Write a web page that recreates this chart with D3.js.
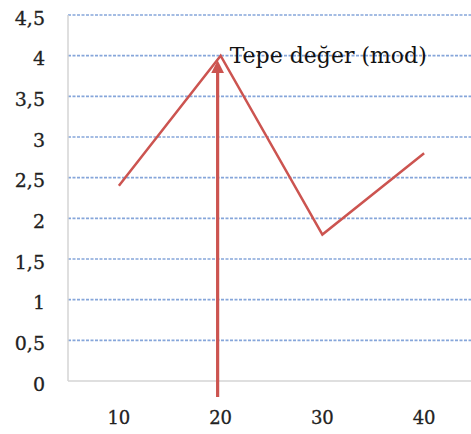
<!DOCTYPE html>
<html><head><meta charset="utf-8">
<script src="https://cdn.jsdelivr.net/npm/d3@7"></script>
<style>body{margin:0;background:#fff}svg{display:block}</style>
</head><body>
<script>
const categories = ["10", "20", "30", "40"];
const values = [2.4, 4, 1.8, 2.8];
const yTicks = [0, 0.5, 1, 1.5, 2, 2.5, 3, 3.5, 4, 4.5];
const annotationText = "Tepe değer (mod)";
const modeCategory = "20";

const W = 471, H = 434;
const svg = d3.select("body").append("svg").attr("width", W).attr("height", H);
const x = d3.scaleBand().domain(categories).range([68, 475]);
const y = d3.scaleLinear().domain([0, 4.5]).range([381, 15]);
const font = "'DejaVu Serif', serif";
const red = "#cc5450";

// gridlines
svg.append("g").selectAll("line").data(yTicks.filter(d => d > 0)).join("line")
  .attr("x1", 68).attr("x2", W).attr("y1", d => y(d)).attr("y2", d => y(d))
  .attr("stroke", "#86a6da").attr("stroke-width", 1.6).attr("stroke-dasharray", "3,1.5");
// axis lines
svg.append("line").attr("x1", 68).attr("x2", W).attr("y1", y(0)).attr("y2", y(0))
  .attr("stroke", "#d4d4d4").attr("stroke-width", 1.5);
svg.append("line").attr("x1", 68).attr("x2", 68).attr("y1", y(4.5)).attr("y2", y(0))
  .attr("stroke", "#d4d4d4").attr("stroke-width", 1.5);

// y labels
svg.append("g").selectAll("text").data(yTicks).join("text")
  .attr("x", 45).attr("y", d => y(d) + 3).attr("dy", "0.35em")
  .attr("text-anchor", "end").attr("font-family", font).attr("font-size", 19).attr("fill", "#222")
  .attr("stroke", "#222").attr("stroke-width", 0.3)
  .text(d => String(d).replace(".", ","));
// x labels
svg.append("g").selectAll("text").data(categories).join("text")
  .attr("x", d => x(d) + x.bandwidth() / 2).attr("y", 418).attr("dy", "0.35em")
  .attr("text-anchor", "middle").attr("font-family", font).attr("font-size", 18).attr("fill", "#222")
  .attr("stroke", "#222").attr("stroke-width", 0.3)
  .text(d => d);

// line
const line = d3.line().x((d, i) => x(categories[i]) + x.bandwidth() / 2).y(d => y(d));
svg.append("path").datum(values).attr("d", line).attr("fill", "none")
  .attr("stroke", red).attr("stroke-width", 2.5);

// arrow
const ax = x(modeCategory) + x.bandwidth() / 2 - 3;
svg.append("defs").append("marker").attr("id", "ah").attr("viewBox", "0 0 10 10")
  .attr("refX", 5).attr("refY", 5).attr("markerWidth", 4).attr("markerHeight", 4).attr("orient", "auto")
  .append("path").attr("d", "M0,0 L10,5 L0,10 z").attr("fill", red);
svg.append("line").attr("x1", ax).attr("x2", ax).attr("y1", 397).attr("y2", y(4) + 11)
  .attr("stroke", red).attr("stroke-width", 3.2).attr("marker-end", "url(#ah)");

svg.append("text").attr("x", x(modeCategory) + x.bandwidth() / 2 + 9).attr("y", y(4) + 7)
  .attr("font-family", font).attr("font-size", 22).attr("fill", "#111").text(annotationText);
</script>
</body></html>
